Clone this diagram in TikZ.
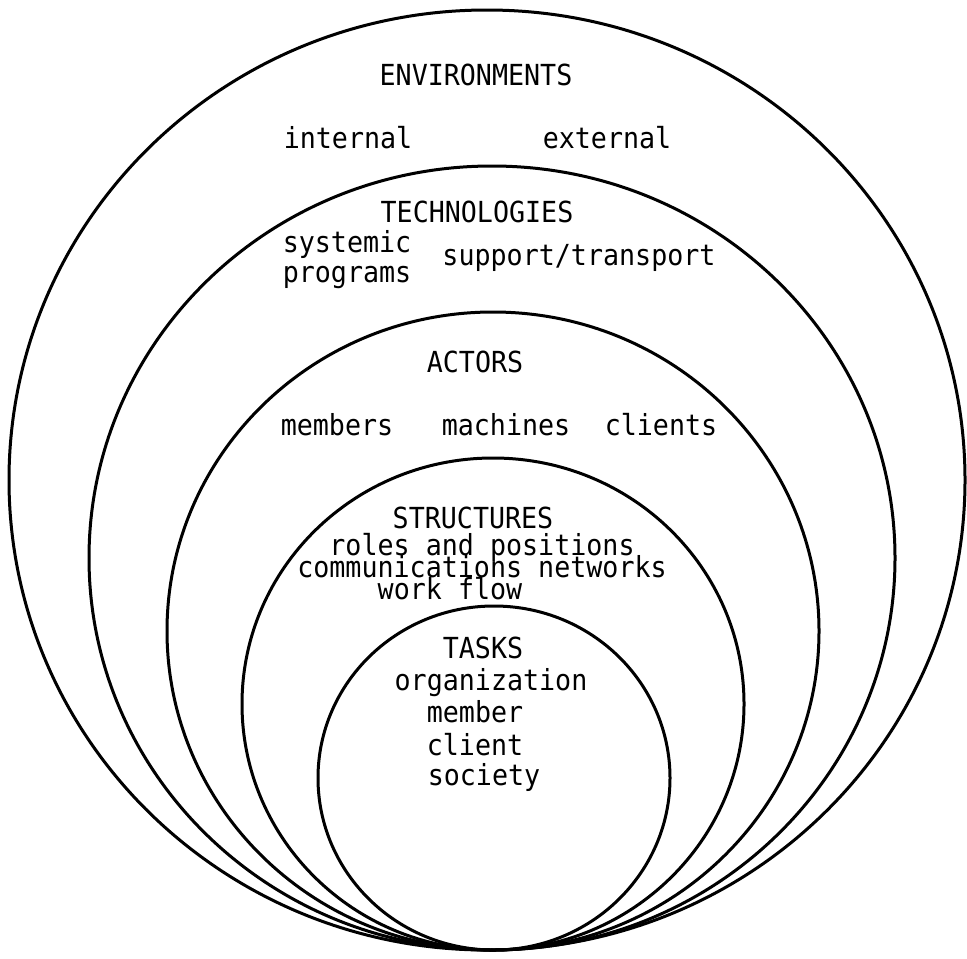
\documentclass[tikz,border=0pt]{standalone}
\usepackage{fontspec}
\setmainfont[FakeStretch=0.92]{DejaVu Sans Mono}
\begin{document}
\begin{tikzpicture}[x=0.5pt,y=-0.5pt,
  ring/.style={line width=1.5pt,draw=black},
  lbl/.style={anchor=base,inner sep=0pt,font=\fontsize{14.5}{16}\selectfont}]
\useasboundingbox (0,0) rectangle (967,958);
\fill[white] (0,0) rectangle (967,958);
% nested ellipses, all touching at the bottom
\draw[ring] (487,480) ellipse [x radius=239pt, y radius=235pt];
\draw[ring] (492,558) ellipse [x radius=201.5pt, y radius=196pt];
\draw[ring] (493,631) ellipse [x radius=163pt, y radius=159.5pt];
\draw[ring] (493,704) ellipse [x radius=125.5pt, y radius=123pt];
\draw[ring] (494,778) ellipse [x radius=88pt, y radius=86pt];
% environments
\node[lbl] (env) at (476,85) {ENVIRONMENTS};
\node[lbl] (int) at (348,148) {internal};
\node[lbl] (ext) at (607,148) {external};
% technologies
\node[lbl] (tech) at (477,222) {TECHNOLOGIES};
\node[lbl] (sys) at (347,252) {systemic};
\node[lbl] (prog) at (347,282) {programs};
\node[lbl] (sup) at (579,265) {support/transport};
% actors
\node[lbl] (act) at (475,372) {ACTORS};
\node[lbl] (mem) at (337,435) {members};
\node[lbl] (mach) at (506,435) {machines};
\node[lbl] (cli) at (661,435) {clients};
% structures
\node[lbl] (str) at (473,528) {STRUCTURES};
\node[lbl] (roles) at (482,555) {roles and positions};
\node[lbl] (comm) at (482,577) {communications networks};
\node[lbl] (work) at (450,599) {work flow};
% tasks
\node[lbl] (tasks) at (483,658) {TASKS};
\node[lbl] (org) at (491,690) {organization};
\node[lbl] (memb) at (475,722) {member};
\node[lbl] (clie) at (475,755) {client};
\node[lbl] (soc) at (484,785) {society};
\end{tikzpicture}
\end{document}
